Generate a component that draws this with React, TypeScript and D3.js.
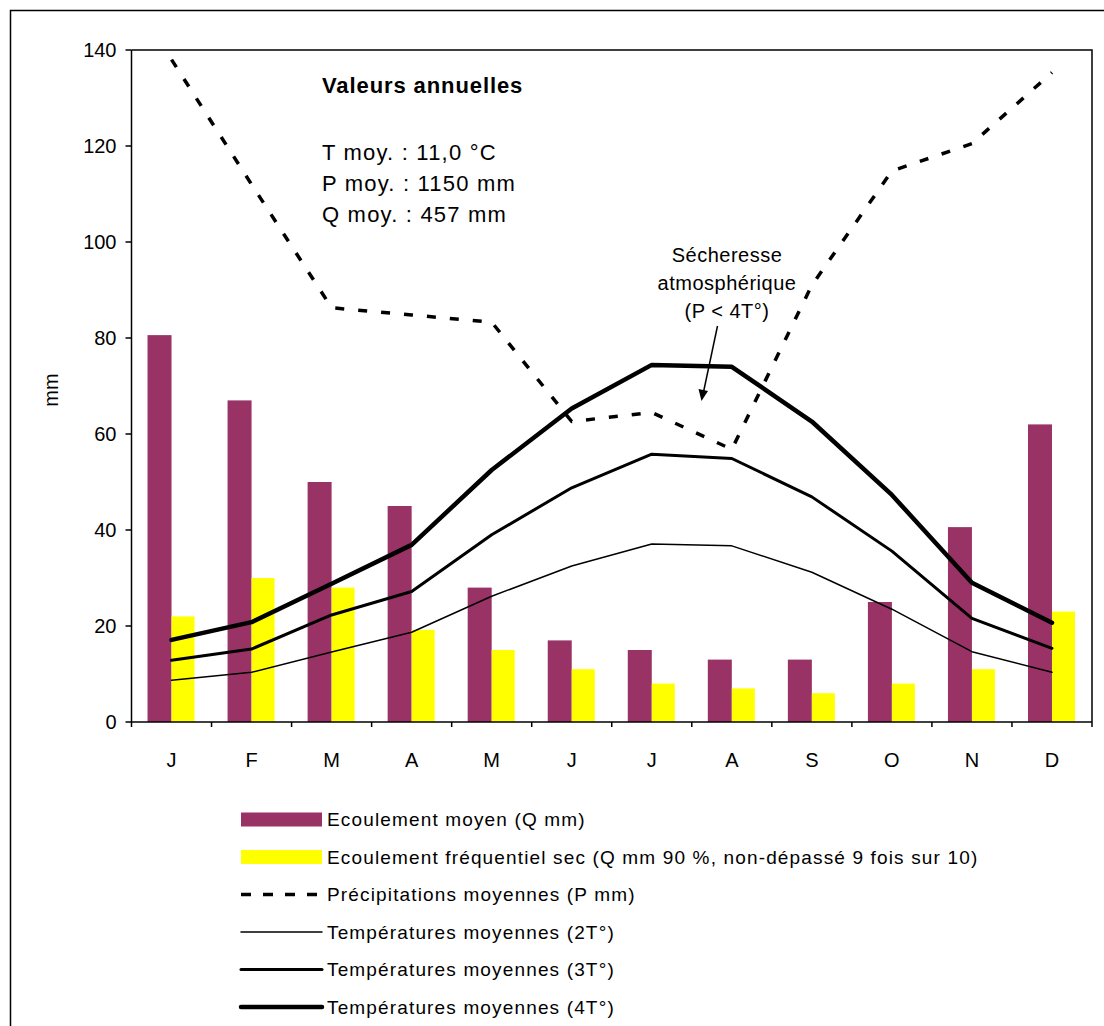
import React from "react";
import * as d3 from "d3";

const months = ["J", "F", "M", "A", "M", "J", "J", "A", "S", "O", "N", "D"];
const qMoyen = [80.6, 67, 50, 45, 28, 17, 15, 13, 13, 25, 40.6, 62];
const q90 = [22, 30, 28, 19.2, 15, 11, 8, 7, 6, 8, 11, 23];
const precip = [138, 112, 86.3, 84.8, 83.3, 62.6, 64.5, 56.8, 91, 114.8, 120.5, 135.3];
const t2 = [8.7, 10.35, 14.6, 18.7, 26.2, 32.5, 37.1, 36.7, 31.2, 23.5, 14.65, 10.35];
const t3 = [12.85, 15.2, 22.3, 27.2, 39, 48.8, 55.8, 54.9, 46.9, 35.6, 21.6, 15.35];
const t4 = [17.1, 20.8, 28.8, 36.9, 52.5, 65.3, 74.4, 74, 62.6, 47.3, 29, 20.7];
const yTicks = [0, 20, 40, 60, 80, 100, 120, 140];
const annualTitle = "Valeurs annuelles";
const annualLines = ["T moy. : 11,0 °C", "P moy. : 1150 mm", "Q moy. : 457 mm"];
const noteLines = ["Sécheresse", "atmosphérique", "(P < 4T°)"];
const legendLabels = [
  "Ecoulement moyen (Q mm)",
  "Ecoulement fréquentiel sec (Q mm 90 %, non-dépassé 9 fois sur 10)",
  "Précipitations moyennes (P mm)",
  "Températures moyennes (2T°)",
  "Températures moyennes (3T°)",
  "Températures moyennes (4T°)",
];

const FONT = "'Liberation Sans', Arial, Helvetica, sans-serif";
const PURPLE = "#993366";
const YELLOW = "#FFFF00";

export default function App() {
  const W = 1104, H = 1026;
  const left = 131.5, right = 1092, top = 50, bottom = 722;
  const x = d3.scaleBand<number>().domain(d3.range(12)).range([left, right]).padding(0);
  const bw = x.bandwidth();
  const xs = d3.scaleBand<string>().domain(["q", "q90"]).range([-24, 24]).padding(0);
  const y = d3.scaleLinear().domain([0, 140]).range([bottom, top]);
  const cx = (i: number) => (x(i) as number) + bw / 2;
  const line = d3.line<number>().x((_, i) => cx(i)).y((d) => y(d));

  const lineSeries = [
    { data: precip, w: 3.5, dash: "9,14" },
    { data: t2, w: 1.5, dash: undefined },
    { data: t3, w: 3, dash: undefined },
    { data: t4, w: 4.5, dash: undefined },
  ];

  const legendY0 = 819.5, legendStep = 37.5;
  const legendStyles = [
    { kind: "rect", color: PURPLE },
    { kind: "rect", color: YELLOW },
    { kind: "line", w: 3.5, dash: "10,12" },
    { kind: "line", w: 1.5 },
    { kind: "line", w: 3 },
    { kind: "line", w: 4.5 },
  ];

  return (
    <svg width={W} height={H} style={{ position: "absolute", left: 0, top: 0, background: "#fff" }} fontFamily={FONT}>
      <rect x={0} y={0} width={W} height={H} fill="#fff" />
      <rect x={10.5} y={10.5} width={1110} height={1040} fill="none" stroke="#000" strokeWidth={1.5} />

      {/* plot area border */}
      <path d={`M${left},${top}H${right}V${bottom}`} fill="none" stroke="#000" strokeWidth={1.5} />

      {/* bars */}
      {qMoyen.map((v, i) => (
        <rect key={"q" + i} x={cx(i) + (xs("q") as number)} y={y(v)} width={xs.bandwidth()} height={y(0) - y(v)} fill={PURPLE} />
      ))}
      {q90.map((v, i) => (
        <rect key={"q90" + i} x={cx(i) + (xs("q90") as number)} y={y(v)} width={xs.bandwidth() - 1} height={y(0) - y(v)} fill={YELLOW} />
      ))}

      {/* lines */}
      {lineSeries.map((s, k) => (
        <path key={"l" + k} d={line(s.data) as string} fill="none" stroke="#000" strokeWidth={s.w}
          strokeDasharray={s.dash} strokeLinejoin="round" strokeLinecap={s.dash ? "butt" : "round"} />
      ))}

      {/* y axis */}
      <line x1={left} x2={left} y1={top} y2={bottom} stroke="#000" strokeWidth={1.5} />
      {yTicks.map((t) => (
        <g key={"yt" + t}>
          <line x1={left - 6} x2={left} y1={y(t)} y2={y(t)} stroke="#000" strokeWidth={1.5} />
          <text x={left - 15} y={y(t)} dy="0.36em" textAnchor="end" fontSize={20}>{t}</text>
        </g>
      ))}
      <text transform={`translate(58,${(top + bottom) / 2 + 4}) rotate(-90)`} textAnchor="middle" fontSize={20}>mm</text>

      {/* x axis */}
      <line x1={left} x2={right} y1={bottom} y2={bottom} stroke="#000" strokeWidth={1.5} />
      {d3.range(13).map((i) => {
        const xx = i < 12 ? (x(i) as number) : right;
        return <line key={"xt" + i} x1={xx} x2={xx} y1={bottom} y2={bottom + 5} stroke="#000" strokeWidth={1.5} />;
      })}
      {months.map((m, i) => (
        <text key={"m" + i} x={cx(i)} y={760} dy="0.36em" textAnchor="middle" fontSize={20}>{m}</text>
      ))}

      {/* annual values */}
      <text x={322} y={93} fontSize={22} fontWeight="bold" letterSpacing={0.9}>{annualTitle}</text>
      {annualLines.map((t, i) => (
        <text key={"a" + i} x={322} y={160 + i * 31} fontSize={22} letterSpacing={1.2}>{t}</text>
      ))}

      {/* annotation */}
      {noteLines.map((t, i) => (
        <text key={"n" + i} x={727} y={262 + i * 28} textAnchor="middle" fontSize={20} letterSpacing={0.5}>{t}</text>
      ))}
      <line x1={717.5} y1={326} x2={703.5} y2={392} stroke="#000" strokeWidth={1.5} />
      <path d="M701.5,401 L698.5,389 L708,391 Z" fill="#000" />

      {/* legend */}
      {legendLabels.map((lab, i) => {
        const ly = legendY0 + i * legendStep;
        const st = legendStyles[i];
        return (
          <g key={"lg" + i}>
            {st.kind === "rect" ? (
              <rect x={241} y={ly - 7} width={81} height={14} fill={st.color} />
            ) : (
              <line x1={241} x2={322} y1={ly} y2={ly} stroke="#000" strokeWidth={st.w} strokeDasharray={st.dash}
                strokeLinecap={st.dash ? "butt" : "round"} />
            )}
            <text x={327} y={ly} dy="0.36em" fontSize={19} letterSpacing={1.15}>{lab}</text>
          </g>
        );
      })}
    </svg>
  );
}
